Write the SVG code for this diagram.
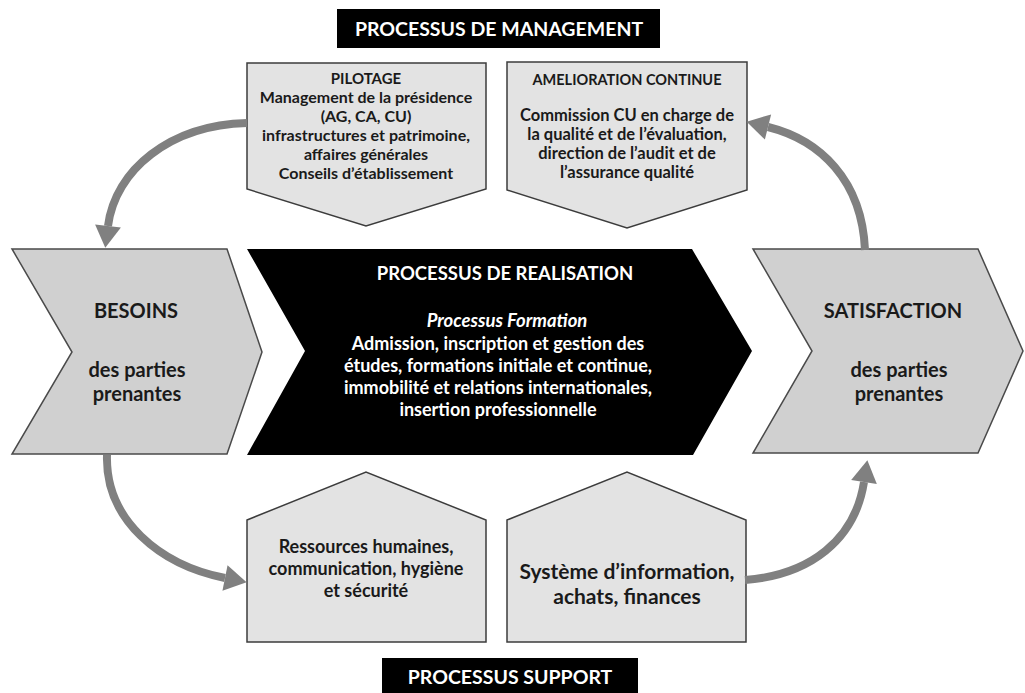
<svg xmlns="http://www.w3.org/2000/svg" width="1025" height="693" viewBox="0 0 1025 693">
  <style>
    .t { font-family: Lato, "Open Sans", "Liberation Sans", sans-serif; font-weight: bold; text-anchor: middle; }
    .dk { fill: #1a1a1a; }
    .wh { fill: #ffffff; }
    .box { fill: #e3e3e3; stroke: #3c3c3c; stroke-width: 1.5; }
    .chev { fill: #d0d0d0; stroke: #4a4a4a; stroke-width: 1.5; }
    .con { fill: none; stroke: #808080; stroke-width: 8; }
  </style>
  <defs>
    <marker id="ah" markerUnits="userSpaceOnUse" markerWidth="24" markerHeight="26" viewBox="0 0 22 26" refX="0" refY="13" orient="auto">
      <path d="M0,0 L22,13 L0,26 z" fill="#808080"/>
    </marker>
  </defs>
  <rect width="1025" height="693" fill="#ffffff"/>

  <g id="title-management">
    <rect x="337" y="9" width="323" height="39" fill="#000"/>
    <text class="t wh" x="499" y="36" font-size="19.5">PROCESSUS DE MANAGEMENT</text>
  </g>

  <g id="pilotage">
    <polygon class="box" points="247,63 486,63 486,189 366,226 247,189"/>
    <text class="t dk" x="366" y="84" font-size="15">PILOTAGE</text>
    <text class="t dk" x="366" y="103" font-size="16">Management de la présidence</text>
    <text class="t dk" x="366" y="122" font-size="16">(AG, CA, CU)</text>
    <text class="t dk" x="366" y="141" font-size="16">infrastructures et patrimoine,</text>
    <text class="t dk" x="366" y="160" font-size="16">affaires générales</text>
    <text class="t dk" x="366" y="179" font-size="16">Conseils d’établissement</text>
  </g>

  <g id="amelioration">
    <polygon class="box" points="507,62 747,62 747,190 627,228 507,190"/>
    <text class="t dk" x="627" y="85" font-size="14.5">AMELIORATION CONTINUE</text>
    <text class="t dk" x="627" y="121" font-size="16.5">Commission CU en charge de</text>
    <text class="t dk" x="627" y="140" font-size="16.5">la qualité et de l’évaluation,</text>
    <text class="t dk" x="627" y="159" font-size="16.5">direction de l’audit et de</text>
    <text class="t dk" x="627" y="178" font-size="16.5">l’assurance qualité</text>
  </g>

  <g id="besoins">
    <polygon class="chev" points="12,249 227,249 262,352 227,454 12,454 72,352"/>
    <text class="t dk" x="136" y="318" font-size="20">BESOINS</text>
    <text class="t dk" x="137" y="377" font-size="20">des parties</text>
    <text class="t dk" x="137" y="401" font-size="20">prenantes</text>
  </g>

  <g id="realisation">
    <polygon points="247,249 692,249 752,351 693,455 247,455 305,351" fill="#000"/>
    <text class="t wh" x="505" y="280" font-size="18.5">PROCESSUS DE REALISATION</text>
    <text class="t wh" x="507" y="327" font-size="18.5" font-style="italic">Processus Formation</text>
    <text class="t wh" x="498" y="350" font-size="18">Admission, inscription et gestion des</text>
    <text class="t wh" x="498" y="372" font-size="18">études, formations initiale et continue,</text>
    <text class="t wh" x="498" y="394" font-size="18">immobilité et relations internationales,</text>
    <text class="t wh" x="498" y="416" font-size="18">insertion professionnelle</text>
  </g>

  <g id="satisfaction">
    <polygon class="chev" points="753,249 978,249 1023,351 978,453 753,453 812,351"/>
    <text class="t dk" x="893" y="318" font-size="20">SATISFACTION</text>
    <text class="t dk" x="899" y="377" font-size="20">des parties</text>
    <text class="t dk" x="899" y="401" font-size="20">prenantes</text>
  </g>

  <g id="ressources">
    <polygon class="box" points="247,520 366,472 486,520 486,642 247,642"/>
    <text class="t dk" x="366" y="553" font-size="18">Ressources humaines,</text>
    <text class="t dk" x="366" y="575" font-size="18">communication, hygiène</text>
    <text class="t dk" x="366" y="597" font-size="18">et sécurité</text>
  </g>

  <g id="systeme">
    <polygon class="box" points="507,520 627,472 746,520 746,642 507,642"/>
    <text class="t dk" x="627" y="579" font-size="21">Système d’information,</text>
    <text class="t dk" x="627" y="604" font-size="21">achats, finances</text>
  </g>

  <g id="title-support">
    <rect x="382" y="658" width="256" height="35" fill="#000"/>
    <text class="t wh" x="510" y="684" font-size="19.5">PROCESSUS SUPPORT</text>
  </g>

  <g id="connectors">
    <path class="con" d="M247,123 C170,125 115,170 108,226" marker-end="url(#ah)"/>
    <path class="con" d="M107,455 C105,520 160,565 225,578" marker-end="url(#ah)"/>
    <path class="con" d="M745,580 C810,575 855,540 864,482" marker-end="url(#ah)"/>
    <path class="con" d="M865,250 C862,180 820,140 768,127" marker-end="url(#ah)"/>
  </g>
</svg>
